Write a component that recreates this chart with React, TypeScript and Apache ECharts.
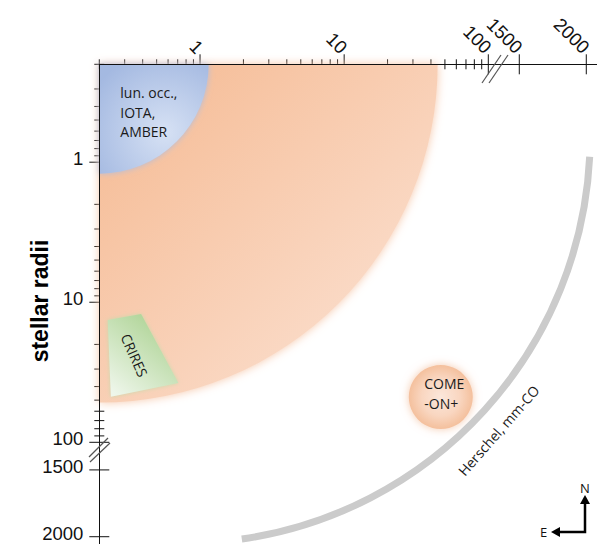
import React, { useEffect, useRef } from 'react';
import * as echarts from 'echarts';

// ---- axis values ----
const LOG_MIN = 0.2;
const LOG_MAX = 100;
const MAJOR_LOG_TICKS = [1, 10, 100];
const MINOR_LOG_TICKS = [0.2, 0.3, 0.4, 0.5, 0.6, 0.7, 0.8, 0.9, 2, 3, 4, 5, 6, 7, 8, 9, 20, 30, 40, 50, 60, 70, 80, 90];
const BREAK_TICKS = [1500, 2000];
const X_BREAK_RANGE = [1268.7, 2080];
const Y_BREAK_RANGE = [1293.3, 2054.5];

// ---- zones (stellar radii) ----
// [origin x, origin y, reach along x]
const ORANGE_ZONE = [0.2, 0.2, 44.5];
const BLUE_ZONE = [0.2, 0.2, 1.147];
const CRIRES_X = [0.2287, 0.39, 0.707, 0.2406];
const CRIRES_Y = [13.38, 12.12, 37.7, 47.2];
// [center x, center y, reach along x]
const COMEON = [46.8, 47.5, 78];
const HERSCHEL = [0.772, 0.66, 509];
const HERSCHEL_ANGLES = [2.8, 81.8];
const HERSCHEL_LABEL_ANGLE = 43;

const AXIS_FONT = '"Liberation Sans", Arial, sans-serif';
const TEXT_FONT = '"Open Sans", "Noto Sans", sans-serif';

const fmt = (v: number) => String(Math.round(v * 100) / 100);

function buildOption() {
  const tickData0: number[][] = [
    ...MINOR_LOG_TICKS.map((v) => [v, LOG_MIN, 5, 0]),
    ...MAJOR_LOG_TICKS.map((v) => [v, LOG_MIN, 10, 0]),
    ...MINOR_LOG_TICKS.map((v) => [LOG_MIN, v, 5, 1]),
    ...MAJOR_LOG_TICKS.map((v) => [LOG_MIN, v, 10, 1]),
  ];
  const tickData1 = BREAK_TICKS.map((v) => [v, 1, 10, 0]);
  const tickData2 = BREAK_TICKS.map((v) => [0, v, 10, 1]);

  const tickRender = (params: any, api: any) => {
    const p = api.coord([api.value(0), api.value(1)]);
    const h = api.value(2);
    const vertical = api.value(3) === 0;
    return {
      type: 'line',
      shape: vertical
        ? { x1: p[0], y1: p[1] - h, x2: p[0], y2: p[1] + h }
        : { x1: p[0] - h, y1: p[1], x2: p[0] + h, y2: p[1] },
      style: { stroke: '#111', lineWidth: 1 },
    };
  };

  const axisLabelBase = { color: '#111', fontSize: 18.5, fontFamily: AXIS_FONT, formatter: fmt };
  const xLabel = { ...axisLabelBase, rotate: 45, margin: 14 };
  const yLabel = { ...axisLabelBase, margin: 16, verticalAlign: 'bottom', lineHeight: 7 };
  const axisLineBase = { show: true, onZero: false, lineStyle: { color: '#111', width: 1 } };

  return {
    animation: false,
    backgroundColor: '#fff',
    grid: [
      { left: 99.3, top: 64.3, width: 389, height: 378, outerBoundsMode: 'none' },
      { left: 488.3, top: 64.3, width: 108.7, height: 378, outerBoundsMode: 'none' },
      { left: 99.3, top: 442.3, width: 389, height: 101.7, outerBoundsMode: 'none' },
    ],
    xAxis: [
      {
        gridIndex: 0, type: 'log', logBase: 10, min: LOG_MIN, max: LOG_MAX, position: 'top', z: 10,
        axisLine: axisLineBase, axisTick: { show: false }, splitLine: { show: false }, minorTick: { show: false },
        axisLabel: { ...xLabel, showMinLabel: false },
      },
      {
        gridIndex: 1, type: 'value', min: X_BREAK_RANGE[0], max: X_BREAK_RANGE[1], position: 'top', z: 10,
        axisLine: axisLineBase, axisTick: { show: false }, splitLine: { show: false },
        axisLabel: { ...xLabel, customValues: BREAK_TICKS },
      },
      { gridIndex: 2, type: 'value', min: 0, max: 1, show: false },
    ],
    yAxis: [
      {
        gridIndex: 0, type: 'log', logBase: 10, min: LOG_MIN, max: LOG_MAX, inverse: true, position: 'left', z: 10,
        axisLine: axisLineBase, axisTick: { show: false }, splitLine: { show: false }, minorTick: { show: false },
        axisLabel: { ...yLabel, showMinLabel: false },
      },
      { gridIndex: 1, type: 'value', min: 0, max: 1, show: false },
      {
        gridIndex: 2, type: 'value', min: Y_BREAK_RANGE[0], max: Y_BREAK_RANGE[1], inverse: true, position: 'left', z: 10,
        axisLine: axisLineBase, axisTick: { show: false }, splitLine: { show: false },
        axisLabel: { ...yLabel, customValues: BREAK_TICKS },
      },
    ],
    graphic: [
      {
        type: 'text', x: 39.5, y: 301, rotation: Math.PI / 2,
        style: { text: 'stellar radii', font: `bold 23px ${AXIS_FONT}`, fill: '#000', align: 'center', verticalAlign: 'middle' },
      },
      // compass
      {
        type: 'polyline', shape: { points: [[585, 503], [585, 532], [559, 532]] },
        style: { stroke: '#000', lineWidth: 2.5, fill: 'none', lineJoin: 'miter' },
      },
      { type: 'polygon', shape: { points: [[585, 495], [580, 504], [590, 504]] }, style: { fill: '#000' } },
      { type: 'polygon', shape: { points: [[551, 532], [560, 527], [560, 537]] }, style: { fill: '#000' } },
      { type: 'text', x: 585, y: 488, style: { text: 'N', font: `13px ${TEXT_FONT}`, fill: '#111', align: 'center', verticalAlign: 'middle' } },
      { type: 'text', x: 543.5, y: 532, style: { text: 'E', font: `13px ${TEXT_FONT}`, fill: '#111', align: 'center', verticalAlign: 'middle' } },
    ],
    series: [
      { type: 'custom', name: 'ticks0', xAxisIndex: 0, yAxisIndex: 0, z: 1, clip: false, silent: true, encode: { x: 0, y: 1 }, data: tickData0, renderItem: tickRender },
      { type: 'custom', name: 'ticks1', xAxisIndex: 1, yAxisIndex: 1, z: 1, clip: false, silent: true, encode: { x: 0, y: 1 }, data: tickData1, renderItem: tickRender },
      { type: 'custom', name: 'ticks2', xAxisIndex: 2, yAxisIndex: 2, z: 1, clip: false, silent: true, encode: { x: 0, y: 1 }, data: tickData2, renderItem: tickRender },
      {
        type: 'custom', name: 'interferometric', xAxisIndex: 0, yAxisIndex: 0, z: 2, clip: false, silent: true,
        encode: { x: 0, y: 1 }, data: [ORANGE_ZONE],
        renderItem: (params: any, api: any) => {
          const c = api.coord([api.value(0), api.value(1)]);
          const e = api.coord([api.value(2), api.value(1)]);
          const r = e[0] - c[0];
          return {
            type: 'sector',
            shape: { cx: c[0], cy: c[1], r0: 0, r, startAngle: 0, endAngle: Math.PI / 2, clockwise: true },
            style: {
              fill: new echarts.graphic.LinearGradient(0, 0, 1, 1, [
                { offset: 0, color: '#f5b991' },
                { offset: 1, color: '#fce5d8' },
              ]),
              shadowBlur: 10, shadowColor: 'rgba(246,196,165,0.95)',
            },
          };
        },
      },
      {
        type: 'custom', name: 'lunar', xAxisIndex: 0, yAxisIndex: 0, z: 3, clip: false, silent: true,
        encode: { x: 0, y: 1 }, data: [BLUE_ZONE],
        renderItem: (params: any, api: any) => {
          const c = api.coord([api.value(0), api.value(1)]);
          const e = api.coord([api.value(2), api.value(1)]);
          const r = e[0] - c[0];
          return {
            type: 'group',
            children: [
              {
                type: 'sector',
                shape: { cx: c[0], cy: c[1], r0: 0, r, startAngle: 0, endAngle: Math.PI / 2, clockwise: true },
                style: {
                  fill: new echarts.graphic.RadialGradient(0.6, 0.62, 0.75, [
                    { offset: 0, color: '#d6e1f4' },
                    { offset: 1, color: '#a4b9e1' },
                  ]),
                  shadowBlur: 6, shadowColor: 'rgba(170,190,228,0.9)',
                },
              },
              {
                type: 'text', x: c[0] + 21, y: c[1] + 18.5,
                style: { text: 'lun. occ.,\nIOTA,\nAMBER', font: `14px ${TEXT_FONT}`, lineHeight: 19.5, fill: '#1a1a1a', align: 'left', verticalAlign: 'top' },
              },
            ],
          };
        },
      },
      {
        type: 'custom', name: 'CRIRES', xAxisIndex: 0, yAxisIndex: 0, z: 3, clip: false, silent: true,
        encode: { x: 0, y: 1 }, data: [[CRIRES_X[0], CRIRES_Y[0]]],
        renderItem: (params: any, api: any) => {
          const pts = CRIRES_X.map((x, i) => api.coord([x, CRIRES_Y[i]]));
          const cx = pts.reduce((s: number, p: number[]) => s + p[0], 0) / pts.length;
          const cy = pts.reduce((s: number, p: number[]) => s + p[1], 0) / pts.length;
          return {
            type: 'group',
            children: [
              {
                type: 'polygon', shape: { points: pts },
                style: {
                  fill: new echarts.graphic.LinearGradient(0.85, 0, 0.15, 1, [
                    { offset: 0, color: '#a6cf8b' },
                    { offset: 1, color: '#eef6ea' },
                  ]),
                  shadowBlur: 4, shadowColor: 'rgba(190,220,170,0.8)',
                },
              },
              {
                type: 'text', x: cx, y: cy + 2, rotation: -66 * Math.PI / 180,
                style: { text: 'CRIRES', font: `14px ${TEXT_FONT}`, fill: '#1a1a1a', align: 'center', verticalAlign: 'middle' },
              },
            ],
          };
        },
      },
      {
        type: 'custom', name: 'COME-ON+', xAxisIndex: 0, yAxisIndex: 0, z: 3, clip: false, silent: true,
        encode: { x: 0, y: 1 }, data: [COMEON],
        renderItem: (params: any, api: any) => {
          const c = api.coord([api.value(0), api.value(1)]);
          const e = api.coord([api.value(2), api.value(1)]);
          const r = e[0] - c[0];
          return {
            type: 'group',
            children: [
              {
                type: 'circle', shape: { cx: c[0], cy: c[1], r },
                style: {
                  fill: new echarts.graphic.RadialGradient(0.5, 0.5, 0.5, [
                    { offset: 0, color: '#fbe7db' },
                    { offset: 0.6, color: '#f9d6c0' },
                    { offset: 1, color: '#f4c09d' },
                  ]),
                  shadowBlur: 8, shadowColor: 'rgba(244,196,165,0.9)',
                },
              },
              {
                type: 'text', x: c[0] - 16.5, y: c[1] - 4,
                style: { text: 'COME\n-ON+', font: `14px ${TEXT_FONT}`, lineHeight: 20, fill: '#1a1a1a', align: 'left', verticalAlign: 'middle' },
              },
            ],
          };
        },
      },
      {
        type: 'custom', name: 'Herschel', xAxisIndex: 0, yAxisIndex: 0, z: 3, clip: false, silent: true,
        encode: { x: 0, y: 1 }, data: [HERSCHEL],
        renderItem: (params: any, api: any) => {
          const c = api.coord([api.value(0), api.value(1)]);
          const e = api.coord([api.value(2), api.value(1)]);
          const r = e[0] - c[0];
          const a = (HERSCHEL_LABEL_ANGLE * Math.PI) / 180;
          const lr = r + 24;
          return {
            type: 'group',
            children: [
              {
                type: 'arc',
                shape: { cx: c[0], cy: c[1], r, startAngle: (HERSCHEL_ANGLES[0] * Math.PI) / 180, endAngle: (HERSCHEL_ANGLES[1] * Math.PI) / 180, clockwise: true },
                style: { stroke: '#cbcbcb', lineWidth: 7, fill: 'none', lineCap: 'butt' },
              },
              {
                type: 'text', x: c[0] + lr * Math.cos(a), y: c[1] + lr * Math.sin(a), rotation: Math.PI / 2 - a + 0.03,
                style: { text: 'Herschel, mm-CO', font: `14px ${TEXT_FONT}`, fill: '#1a1a1a', align: 'center', verticalAlign: 'middle' },
              },
            ],
          };
        },
      },
      {
        type: 'custom', name: 'breaks', xAxisIndex: 0, yAxisIndex: 0, z: 12, clip: false, silent: true,
        encode: { x: 0, y: 1 }, data: [[LOG_MAX, LOG_MIN, 0], [LOG_MIN, LOG_MAX, 1]],
        renderItem: (params: any, api: any) => {
          const p = api.coord([api.value(0), api.value(1)]);
          const horizontalAxis = api.value(2) === 0;
          const segs = horizontalAxis
            ? [[-6.3, 18.7, 12.7, -9.3], [0.7, 18.7, 19.7, -9.3]]
            : [[-10.3, 14.7, 8.7, -4.3], [-9.3, 19.7, 10.7, 0.7]];
          return {
            type: 'group',
            children: segs.map((s) => ({
              type: 'line',
              shape: { x1: p[0] + s[0], y1: p[1] + s[1], x2: p[0] + s[2], y2: p[1] + s[3] },
              style: { stroke: '#555', lineWidth: 1.2 },
            })),
          };
        },
      },
    ],
  };
}

export default function App() {
  const ref = useRef<HTMLDivElement>(null);
  useEffect(() => {
    if (!ref.current) return;
    const chart = echarts.init(ref.current, null, { renderer: 'svg' });
    chart.setOption(buildOption() as any);
    return () => chart.dispose();
  }, []);
  return <div ref={ref} style={{ position: 'fixed', left: 0, top: 0, width: 597, height: 544 }} />;
}
